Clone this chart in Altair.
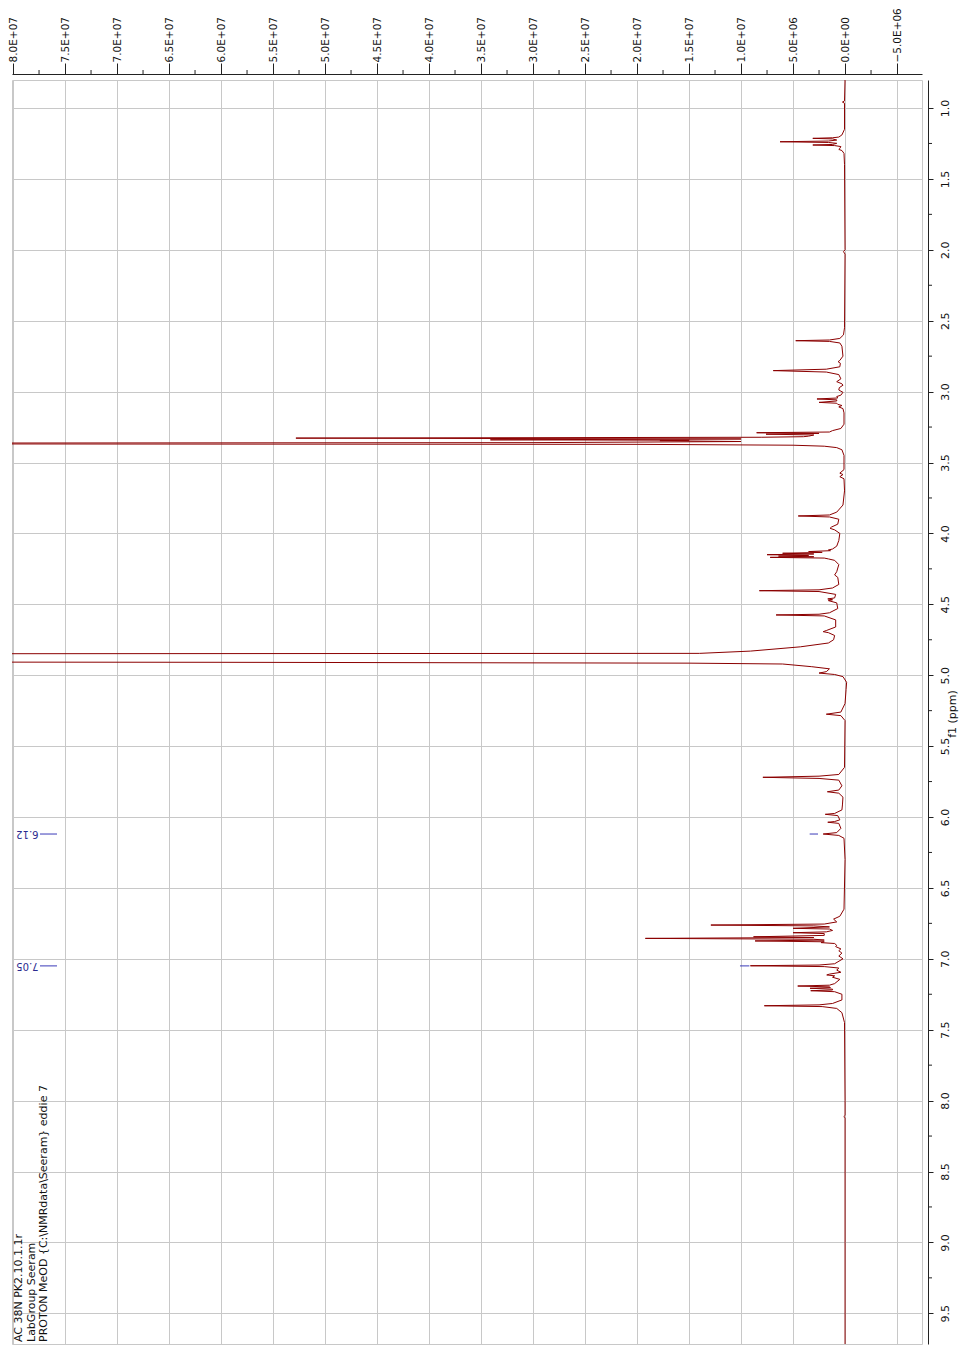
import altair as alt
import pandas as pd

# ---------------- data (ppm, intensity in units of 1E6) -------------
trace_0_2 = [
    (0.80, 0.0), (0.95, 0.05), (0.958, 0.25), (0.966, 0.05), (1.15, 0.05), (1.19, 0.3),
    (1.205, 0.6), (1.210, 1.2), (1.214, 3.1), (1.218, 1.2), (1.226, 0.8), (1.233, 1.6),
    (1.238, 6.25), (1.243, 1.6), (1.249, 0.8), (1.257, 1.2), (1.261, 3.1), (1.265, 1.0),
    (1.272, 0.4), (1.285, 0.5), (1.292, 0.6), (1.30, 0.3), (1.32, 0.1), (1.40, 0.05),
    (2.00, 0.0), (2.013, 0.15), (2.03, 0.0),
]
trace_2_3 = [
    (2.55, 0.05), (2.60, 0.15), (2.625, 0.5), (2.636, 1.5), (2.641, 4.74), (2.646, 1.5),
    (2.657, 0.5), (2.68, 0.3), (2.75, 0.2), (2.78, 0.5), (2.789, 0.67), (2.80, 0.45),
    (2.825, 0.5), (2.842, 1.8), (2.852, 6.9), (2.862, 1.8), (2.88, 0.6), (2.91, 0.4),
    (2.930, 0.8), (2.945, 0.3), (2.955, 0.2), (2.972, 0.55), (2.989, 0.6), (3.005, 0.2),
    (3.025, 0.4), (3.035, 0.8), (3.045, 0.7), (3.052, 2.7), (3.058, 0.8), (3.066, 0.8),
    (3.076, 2.5), (3.082, 0.8), (3.090, 0.7), (3.098, 0.3), (3.108, 0.6), (3.12, 0.2),
    (3.15, 0.1), (3.23, 0.1), (3.26, 0.4), (3.275, 1.2), (3.285, 1.5), (3.290, 8.5),
    (3.295, 2.5), (3.300, 7.6), (3.306, 3.0), (3.314, 3.5), (3.318, 4.0), (3.322, 8.0),
    (3.328, 52.8), (3.334, 10.0), (3.340, 34.1), (3.343, 15.0), (3.346, 17.8),
    (3.352, 10.0), (3.360, 30.0), (3.366, 150.0), (3.372, 20.0), (3.378, 5.0),
    (3.385, 2.0), (3.395, 0.8), (3.41, 0.3), (3.45, 0.1), (3.55, 0.1), (3.575, 0.5),
    (3.585, 0.2), (3.60, 0.5), (3.615, 0.1), (3.70, 0.05),
]
trace_3_5 = [
    (3.80, 0.2), (3.85, 0.8), (3.870, 1.5), (3.877, 4.5), (3.884, 1.5), (3.90, 0.6),
    (3.935, 0.7), (3.955, 1.3), (3.964, 1.44), (3.975, 1.0), (4.00, 0.5), (4.05, 0.6),
    (4.09, 0.8), (4.11, 1.2), (4.117, 1.6), (4.122, 1.4), (4.128, 3.5), (4.134, 2.2),
    (4.140, 6.0), (4.145, 3.0), (4.150, 7.5), (4.155, 3.5), (4.160, 6.4), (4.165, 3.0),
    (4.169, 7.2), (4.174, 2.0), (4.180, 1.6), (4.19, 1.0), (4.22, 0.6), (4.27, 0.8),
    (4.293, 1.0), (4.31, 0.7), (4.36, 0.6), (4.385, 1.2), (4.398, 2.5), (4.404, 8.24),
    (4.41, 2.5), (4.43, 0.9), (4.455, 1.0), (4.462, 1.66), (4.468, 1.2), (4.474, 1.6),
    (4.49, 0.8), (4.53, 0.7), (4.56, 1.5), (4.570, 2.5), (4.575, 6.63), (4.582, 2.0),
    (4.61, 0.9), (4.66, 0.9), (4.685, 1.8), (4.693, 2.1), (4.70, 1.6), (4.72, 1.0),
    (4.75, 1.1), (4.773, 1.6), (4.80, 4.3), (4.83, 9.1), (4.846, 14.0), (4.860, 400.0),
    (4.875, 800.0), (4.890, 400.0), (4.909, 60.0), (4.915, 15.0), (4.921, 6.0),
    (4.94, 3.2), (4.955, 1.5), (4.975, 1.8), (4.985, 2.5), (4.995, 1.0), (5.01, 0.2),
    (5.05, -0.15), (5.10, -0.1),
]
trace_5_7 = [
    (5.20, 0.0), (5.26, 0.4), (5.275, 1.8), (5.285, 0.4), (5.32, 0.0), (5.65, 0.05),
    (5.70, 0.6), (5.712, 2.5), (5.72, 7.9), (5.728, 2.5), (5.74, 0.6), (5.78, 0.3),
    (5.81, 0.6), (5.822, 1.7), (5.832, 0.6), (5.86, 0.2), (5.915, 0.25), (5.95, 0.3),
    (5.975, 1.0), (5.981, 1.9), (5.99, 0.7), (6.02, 0.5), (6.032, 1.0), (6.037, 1.66),
    (6.045, 0.6), (6.08, 0.4), (6.11, 0.8), (6.120, 2.1), (6.13, 0.6), (6.15, 0.1),
    (6.30, 0.0), (6.65, 0.1), (6.70, 0.5), (6.72, 1.1), (6.74, 0.8), (6.755, 2.0),
    (6.762, 12.9), (6.768, 3.0), (6.775, 1.5), (6.785, 5.0), (6.79, 1.5), (6.80, 1.2),
    (6.81, 1.8), (6.816, 5.0), (6.822, 2.0), (6.835, 2.0), (6.845, 8.8), (6.85, 3.0),
    (6.856, 19.2), (6.862, 3.0), (6.868, 2.0), (6.874, 8.65), (6.88, 2.0), (6.886, 2.3),
    (6.892, 1.0), (6.905, 0.8), (6.914, 0.9), (6.93, 0.4), (6.943, 0.6), (6.96, 0.3),
    (6.98, 0.6), (7.00, 0.2),
]
trace_7_10 = [
    (7.035, 1.0), (7.044, 2.5), (7.049, 9.1), (7.055, 2.0), (7.065, 0.6), (7.08, 0.8),
    (7.095, 0.4), (7.108, 1.5), (7.114, 1.76), (7.12, 1.0), (7.13, 1.2), (7.145, 0.5),
    (7.175, 1.0), (7.186, 1.5), (7.192, 4.55), (7.198, 1.5), (7.203, 1.4), (7.208, 3.37),
    (7.214, 1.2), (7.220, 1.2), (7.225, 3.3), (7.232, 1.0), (7.25, 0.3), (7.29, 0.3),
    (7.315, 1.2), (7.325, 2.5), (7.331, 7.76), (7.337, 2.2), (7.35, 0.8), (7.38, 0.3),
    (7.45, 0.05), (8.00, 0.0), (8.105, 0.0), (8.113, 0.12), (8.12, 0.0), (9.00, 0.0),
    (9.72, 0.0),
]

peak_labels_ppm = [6.12, 7.05]
peak_mark_lo = [2.6, 9.2]      # intensity (1E6) where the blue pick marker starts
peak_mark_hi = [3.4, 10.1]

intensity_major_ticks = [-5, 0, 5, 10, 15, 20, 25, 30, 35, 40, 45, 50, 55, 60, 65, 70, 75, 80]
intensity_minor_ticks = [-2.5, 2.5, 7.5, 12.5, 17.5, 22.5, 27.5, 32.5, 37.5, 42.5, 47.5,
                         52.5, 57.5, 62.5, 67.5, 72.5, 77.5]
ppm_major_ticks = [1.0, 1.5, 2.0, 2.5, 3.0, 3.5, 4.0, 4.5, 5.0, 5.5, 6.0, 6.5, 7.0, 7.5,
                   8.0, 8.5, 9.0, 9.5]
ppm_minor_ticks = [1.25, 1.75, 2.25, 2.75, 3.25, 3.75, 4.25, 4.75, 5.25, 5.75, 6.25, 6.75,
                   7.25, 7.75, 8.25, 8.75, 9.25]

info_lines = [
    "AC 38N PK2.10.1.1r",
    "LabGroup Seeram",
    "PROTON MeOD {C:\\NMRdata\\Seeram} eddie 7",
]
axis_title = "f1 (ppm)"

# ---------------- build ----------------
pts = trace_0_2 + trace_2_3 + trace_3_5 + trace_5_7 + trace_7_10
spec = pd.DataFrame({"ppm": [p for p, _ in pts], "I": [v for _, v in pts]})

W, H = 910, 1264
FONT = "DejaVu Sans"
GRID = "#c8c8c8"
AX = "#222222"

xs = alt.Scale(domain=[-7.4, 80.1], reverse=True, nice=False, zero=False)
ys = alt.Scale(domain=[0.8025, 9.7165], reverse=True, nice=False, zero=False)

label_expr = ("datum.value == 0 ? '0.0E+00' : (abs(datum.value) >= 10 ? "
              "format(datum.value/10, '.1f') + 'E+07' : format(datum.value, '.1f') + 'E+06')")

x_axis = alt.Axis(orient="top", values=intensity_major_ticks, offset=6, tickSize=11,
                  labelPadding=1, labelAngle=270, labelAlign="left", labelBaseline="middle",
                  labelExpr=label_expr, grid=True, gridColor=GRID, gridWidth=1,
                  domainColor=AX, tickColor=AX, labelColor="#111111", labelFont=FONT,
                  labelFontSize=10.5, labelFlush=False, labelOverlap=False, title=None)
y_axis = alt.Axis(orient="right", values=ppm_major_ticks, offset=6, tickSize=5,
                  labelPadding=6, labelAngle=270, labelAlign="center", labelBaseline="top",
                  format=".1f", grid=True, gridColor=GRID, gridWidth=1, domainColor=AX,
                  tickColor=AX, labelColor="#111111", labelFont=FONT, labelFontSize=11,
                  labelFlush=False, labelOverlap=False, title=None)


def X(field):
    return alt.X(field, scale=xs, axis=x_axis)


def Y(field):
    return alt.Y(field, scale=ys, axis=y_axis)


line = alt.Chart(spec).mark_line(color="#8B0000", strokeWidth=1, clip=True).encode(
    x=X("I:Q"), y=Y("ppm:Q"), order=alt.Order("ppm:Q"))

top_minor = alt.Chart(pd.DataFrame({"I": intensity_minor_ticks})).mark_rule(
    color=AX, strokeWidth=1).encode(x=X("I:Q"), y=alt.value(-6), y2=alt.value(-10))

right_minor = alt.Chart(pd.DataFrame({"ppm": ppm_minor_ticks})).mark_rule(
    color=AX, strokeWidth=1).encode(y=Y("ppm:Q"), x=alt.value(W + 6), x2=alt.value(W + 10))

picks = pd.DataFrame({"ppm": peak_labels_ppm, "I": peak_mark_lo, "hi": peak_mark_hi})
pick_marks = alt.Chart(picks).mark_rule(color="#3a3ab8", strokeWidth=1).encode(
    y=Y("ppm:Q"), x=X("I:Q"), x2="hi:Q")
pick_leaders = alt.Chart(picks).mark_rule(color="#3a3ab8", strokeWidth=1).encode(
    y=Y("ppm:Q"), x=alt.value(28), x2=alt.value(45))
pick_text = alt.Chart(picks).mark_text(
    angle=180, align="left", baseline="middle", font=FONT, fontSize=10,
    color="#2a2a8f").encode(
    y=Y("ppm:Q"), x=alt.value(26.5), text=alt.Text("ppm:Q", format=".2f"))

info = alt.Chart(pd.DataFrame({"t": ["\n".join(info_lines)]})).mark_text(
    angle=270, align="left", baseline="top", lineBreak="\n", lineHeight=12.5,
    font=FONT, fontSize=11, color="#111111").encode(
    text="t:N", x=alt.value(1), y=alt.value(1262))

title = alt.Chart(pd.DataFrame({"t": [axis_title]})).mark_text(
    angle=270, align="center", baseline="top", font=FONT, fontSize=11,
    color="#111111").encode(text="t:N", x=alt.value(W + 25), y=alt.value(634))

chart = alt.layer(line, top_minor, right_minor, pick_marks, pick_leaders, pick_text,
                  info, title).properties(
    width=W, height=H,
    autosize=alt.AutoSizeParams(type="none"),
    padding={"left": 4, "top": 72, "right": 38, "bottom": 2},
    background="white",
).configure_view(stroke=GRID, strokeWidth=1)

chart.save("out.html", embed_options={"renderer": "svg", "actions": False})
